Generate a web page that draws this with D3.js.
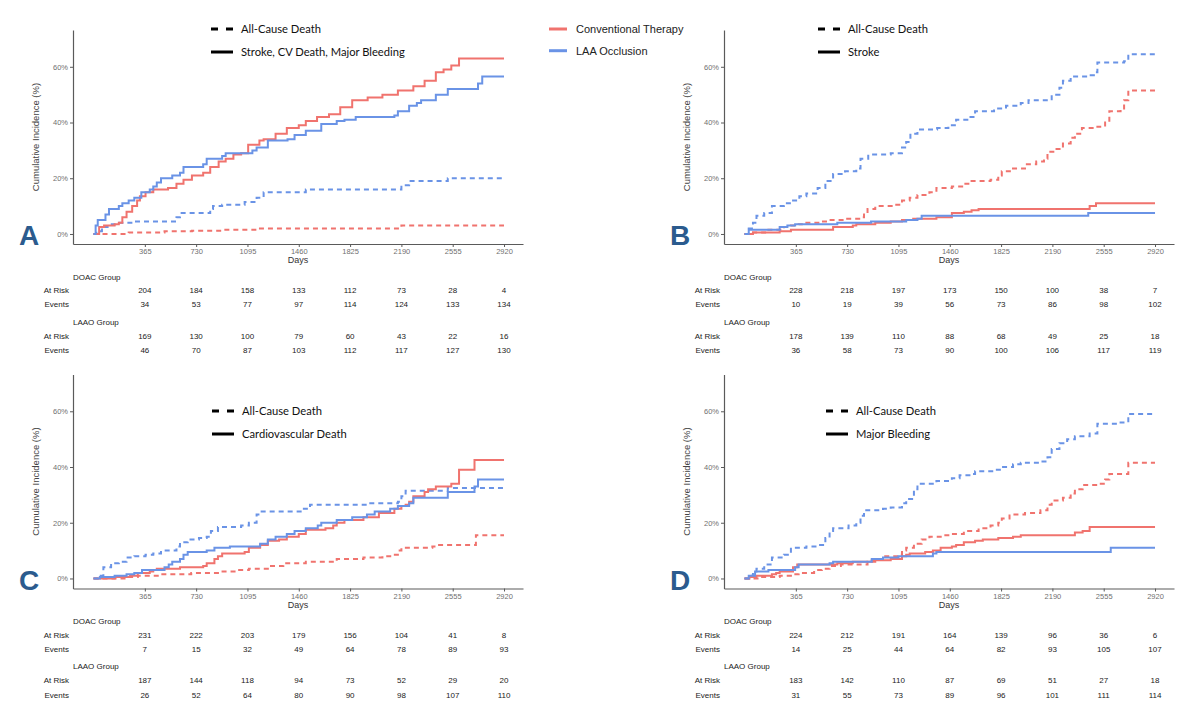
<!DOCTYPE html>
<html lang="en">
  <head>
    <meta charset="UTF-8" />
    <title>Cumulative Incidence</title>
    <style>
      body { margin: 0; background: #fff; }
      svg { display: block; }
    </style>
  </head>
  <body>
    <svg id="svg" width="1200" height="708"></svg>

    <script src="https://cdn.jsdelivr.net/npm/d3@7"></script>
    <script>
      // ---- data ----
      const tickDays = [365, 730, 1095, 1460, 1825, 2190, 2555, 2920];
      const yTicks = [0, 20, 40, 60];
      const panelLetters = ["A", "B", "C", "D"];
      const outcomeNames = ["Stroke, CV Death, Major Bleeding", "Stroke", "Cardiovascular Death", "Major Bleeding"];
      const groupNames = ["Conventional Therapy", "LAA Occlusion"];
      const lineTypes = ["All-Cause Death", "outcome"];

      // [day, cumulative %]
      const aConvOutcome = [[0,0],[40,2.5],[75,3],[150,3.5],[180,4],[205,6],[235,8],[275,10],[310,12],[330,13.5],[370,15],[425,16],[530,16.5],[590,18],[640,19.5],[700,21],[780,22],[830,24],[890,26],[940,27],[995,28.5],[1050,29],[1100,32],[1180,33.5],[1210,34],[1295,36],[1375,38],[1460,39],[1510,40.5],[1590,42],[1675,43],[1755,45.5],[1840,48],[1950,49],[2055,50],[2165,51.5],[2275,53],[2355,55],[2435,58],[2490,59],[2545,60.5],[2600,63],[2920,63]];
      const aLaaoOutcome = [[0,0],[15,3],[30,5],[85,7],[110,9],[180,10],[205,11],[250,12],[290,13],[340,15],[400,16],[425,17],[450,18.5],[480,20],[560,21],[615,22],[640,24],[780,25],[805,27],[915,28],[940,29],[1130,30],[1160,31],[1240,33.5],[1380,34],[1430,35.5],[1510,37],[1620,39.5],[1730,40.5],[1785,41],[1865,42],[2140,42.5],[2165,44],[2245,46],[2300,47],[2330,48],[2435,50],[2520,52],[2735,54],[2765,56.5],[2920,56.5]];
      const aConvDeath = [[0,0],[250,0.5],[505,1],[700,1.2],[915,1.5],[1160,2],[2190,3],[2920,3]];
      const aLaaoDeath = [[0,0],[20,1],[60,2.5],[100,3.5],[155,4],[290,4.5],[590,6],[615,7.5],[830,9],[850,10],[915,10.5],[1075,11.5],[1160,13],[1210,15],[1510,16],[2190,17.5],[2245,19],[2520,20],[2920,20]];

      const bConvOutcome = [[0,0],[60,0.5],[250,1],[330,1.5],[630,2.5],[770,3],[795,3.5],[930,4],[1040,4.5],[1120,5],[1200,5.5],[1365,6],[1475,7.5],[1560,8],[1615,8.5],[1665,9],[2455,10],[2500,11],[2920,11]];
      const bLaaoOutcome = [[0,0],[30,1.5],[250,2.5],[305,3],[360,3.5],[660,4],[900,4.5],[1150,5],[1230,5.5],[1260,6.5],[2445,7.5],[2920,7.5]];
      const bConvDeath = [[0,0],[60,0.5],[170,1.5],[280,2.5],[330,3],[385,3.5],[440,4],[550,4.5],[605,5],[715,5.5],[825,6],[850,7.5],[875,9],[930,10],[1070,10.5],[1120,12],[1175,13],[1230,14],[1315,15],[1365,16.5],[1475,17],[1560,18],[1615,19],[1750,19.5],[1805,21],[1830,22.5],[1910,23.5],[1995,25],[2075,26],[2130,27],[2155,29.5],[2210,30.5],[2265,32.5],[2320,34.5],[2350,36],[2400,38],[2510,38.5],[2565,40],[2595,44],[2675,44.5],[2700,48],[2730,51.5],[2920,51.5]];
      const bLaaoDeath = [[0,0],[30,2],[60,4],[85,6.5],[140,7.5],[195,10],[280,11],[330,12],[390,13.5],[440,14.5],[520,16.5],[575,19],[630,21.5],[715,22.5],[795,23.5],[825,27],[880,28.5],[1040,29],[1120,31],[1150,33],[1180,36],[1230,37.5],[1370,38],[1450,39],[1505,41],[1585,42],[1640,44],[1775,45],[1860,46],[1965,47],[2020,48],[2185,50],[2240,52.5],[2265,55],[2320,56.5],[2430,57],[2485,58],[2510,61.5],[2700,62],[2730,64.5],[2920,64.5]];

      const cConvOutcome = [[0,0],[150,0.5],[260,1],[315,2],[400,2.5],[425,3],[450,3.5],[615,4],[780,4.5],[805,5.5],[860,7],[885,8],[915,9],[1075,9.5],[1105,11],[1185,12],[1240,13.5],[1320,14],[1375,15],[1460,16],[1510,17.5],[1650,18],[1705,19],[1730,20],[1785,21],[1920,22],[2030,23.5],[2140,25],[2190,26],[2220,26.5],[2245,27.5],[2275,29.5],[2355,31],[2380,32],[2435,33],[2545,34],[2600,39],[2710,42.5],[2920,42.5]];
      const cLaaoOutcome = [[0,0],[45,0.5],[150,1],[235,1.5],[290,2],[345,3],[505,4],[535,5],[560,6],[615,7],[640,8.5],[670,9.5],[805,10],[860,11],[970,11.5],[1185,12.5],[1240,14],[1295,15],[1375,16],[1430,17],[1510,18],[1595,19],[1620,20],[1730,21],[1840,22],[1945,23],[2000,24],[2110,25],[2165,26],[2245,27],[2275,29],[2520,31],[2710,33],[2735,35.5],[2920,35.5]];
      const cConvDeath = [[0,0],[235,0.5],[315,1],[480,1.5],[695,2],[885,2.5],[1025,3],[1105,3.5],[1240,4.5],[1350,5.5],[1510,6],[1730,7],[1920,7.5],[2055,8],[2135,8.5],[2165,10],[2190,11],[2410,11.5],[2435,12],[2720,15.5],[2920,15.5]];
      const cLaaoDeath = [[0,0],[30,1],[70,4],[125,5.5],[180,6],[235,7.5],[290,8],[370,8.5],[425,9],[480,10],[590,11.5],[615,13],[670,14],[750,14.5],[805,15],[835,17],[885,18.5],[1050,19],[1105,20],[1160,23],[1185,24],[1485,25],[1540,26.5],[1945,27],[2165,27.5],[2190,29.5],[2220,31.5],[2520,32.5],[2920,32.5]];

      const dConvOutcome = [[0,0],[35,0.5],[85,1],[195,1.5],[225,2],[250,2.5],[345,4],[375,5],[660,5.5],[770,6],[905,6.5],[1040,7],[1120,8],[1150,8.5],[1175,9],[1285,9.5],[1340,10],[1395,11],[1475,11.5],[1505,12],[1560,13],[1640,13.5],[1695,14],[1805,14.5],[1910,15],[1965,15.5],[2350,16.5],[2405,17],[2455,18.5],[2920,18.5]];
      const dLaaoOutcome = [[0,0],[30,1],[75,2.5],[170,3],[360,4],[385,5],[605,5.5],[630,6],[905,7],[985,7.5],[1095,8],[1340,9],[1365,9.5],[2605,11],[2920,11]];
      const dConvDeath = [[0,0],[115,0.5],[250,1],[330,1.5],[385,2],[495,3],[550,3.5],[605,4.5],[685,5],[875,6],[930,7],[985,8],[1095,8.5],[1120,10],[1150,11],[1205,12.5],[1260,14],[1315,15],[1420,15.5],[1475,16],[1560,17],[1665,18],[1750,19],[1805,20],[1830,21.5],[1885,23],[1995,23.5],[2105,24.5],[2155,26.5],[2185,28],[2265,29],[2320,30.5],[2350,32],[2405,33.5],[2510,34],[2565,35.5],[2595,37.5],[2730,41.5],[2920,41.5]];
      const dLaaoDeath = [[0,0],[30,1],[60,2],[85,3.5],[140,5],[195,7.5],[280,8.5],[330,11],[440,11.5],[525,12],[575,14.5],[605,17],[630,18],[740,19],[795,20],[825,22.5],[850,24.5],[985,25],[1040,25.5],[1120,27],[1150,28.5],[1205,32],[1230,34],[1365,35],[1475,36],[1530,37],[1615,37.5],[1640,38.5],[1775,39],[1830,40],[1910,41],[1965,41.5],[2105,42],[2155,43.5],[2185,46.5],[2240,48.5],[2295,50],[2350,51],[2455,52],[2510,55.5],[2675,56],[2730,59],[2920,59]];

      // numbers at risk / events tables
      const aDoacAtRisk = [204, 184, 158, 133, 112, 73, 28, 4];
      const aDoacEvents = [34, 53, 77, 97, 114, 124, 133, 134];
      const aLaaoAtRisk = [169, 130, 100, 79, 60, 43, 22, 16];
      const aLaaoEvents = [46, 70, 87, 103, 112, 117, 127, 130];
      const bDoacAtRisk = [228, 218, 197, 173, 150, 100, 38, 7];
      const bDoacEvents = [10, 19, 39, 56, 73, 86, 98, 102];
      const bLaaoAtRisk = [178, 139, 110, 88, 68, 49, 25, 18];
      const bLaaoEvents = [36, 58, 73, 90, 100, 106, 117, 119];
      const cDoacAtRisk = [231, 222, 203, 179, 156, 104, 41, 8];
      const cDoacEvents = [7, 15, 32, 49, 64, 78, 89, 93];
      const cLaaoAtRisk = [187, 144, 118, 94, 73, 52, 29, 20];
      const cLaaoEvents = [26, 52, 64, 80, 90, 98, 107, 110];
      const dDoacAtRisk = [224, 212, 191, 164, 139, 96, 36, 6];
      const dDoacEvents = [14, 25, 44, 64, 82, 93, 105, 107];
      const dLaaoAtRisk = [183, 142, 110, 87, 69, 51, 27, 18];
      const dLaaoEvents = [31, 55, 73, 89, 96, 101, 111, 114];

      // ---- build panels ----
      const panels = [
        { series: [aConvDeath, aLaaoDeath, aConvOutcome, aLaaoOutcome],
          table: [aDoacAtRisk, aDoacEvents, aLaaoAtRisk, aLaaoEvents] },
        { series: [bConvDeath, bLaaoDeath, bConvOutcome, bLaaoOutcome],
          table: [bDoacAtRisk, bDoacEvents, bLaaoAtRisk, bLaaoEvents] },
        { series: [cConvDeath, cLaaoDeath, cConvOutcome, cLaaoOutcome],
          table: [cDoacAtRisk, cDoacEvents, cLaaoAtRisk, cLaaoEvents] },
        { series: [dConvDeath, dLaaoDeath, dConvOutcome, dLaaoOutcome],
          table: [dDoacAtRisk, dDoacEvents, dLaaoAtRisk, dLaaoEvents] },
      ];
      const offsets = [[0, 0], [651, 0], [0, 344.5], [651, 344.5]];
      const legendX = [211, 167, 212, 175];
      const legendY = [29, 29, 66.5, 66.5];

      const red = "#F0736E";
      const blue = "#6A93E6";
      const color = d3.scaleOrdinal().domain(groupNames).range([red, blue]);

      const x = d3.scaleLinear().domain([-146, 3055]).range([73, 523]);
      const y = d3.scaleLinear().domain([-3.6, 73.2]).range([244, 30]);

      const line = d3.line()
        .x((d) => x(d[0]))
        .y((d) => y(d[1]))
        .curve(d3.curveStepAfter);

      const svg = d3.select("#svg");
      const sans = "'Liberation Sans', Arial, sans-serif";

      panels.forEach((p, i) => {
        const g = svg.append("g")
          .attr("transform", `translate(${offsets[i][0]},${offsets[i][1]})`);

        // axes
        const xAxis = g.append("g")
          .attr("transform", `translate(0,${y.range()[0]})`)
          .call(d3.axisBottom(x).tickValues(tickDays).tickFormat((d) => String(d)).tickSize(3).tickSizeOuter(0).tickPadding(2));
        const yAxis = g.append("g")
          .attr("transform", `translate(${x.range()[0]},0)`)
          .call(d3.axisLeft(y).tickValues(yTicks).tickFormat((d) => d + "%").tickSize(3).tickSizeOuter(0).tickPadding(2));
        [xAxis, yAxis].forEach((ax) => {
          ax.select(".domain").attr("stroke", "#5a5a5a").attr("stroke-width", 1.2);
          ax.selectAll(".tick line").attr("stroke", "#5a5a5a");
          ax.selectAll(".tick text")
            .attr("fill", "#707070")
            .style("font-family", sans)
            .style("font-size", "7.5px");
        });

        g.append("text")
          .attr("x", (x.range()[0] + x.range()[1]) / 2)
          .attr("y", 263)
          .attr("text-anchor", "middle")
          .attr("fill", "#333")
          .style("font-family", sans)
          .style("font-size", "9px")
          .text("Days");

        g.append("text")
          .attr("transform", `translate(39,137) rotate(-90)`)
          .attr("text-anchor", "middle")
          .attr("fill", "#444")
          .style("font-family", sans)
          .style("font-size", "9.5px")
          .text("Cumulative Incidence (%)");

        // curves
        p.series.forEach((s, k) => {
          g.append("path")
            .datum(s)
            .attr("fill", "none")
            .attr("stroke", color(groupNames[k % 2]))
            .attr("stroke-width", 2)
            .attr("stroke-dasharray", k < 2 ? "5,4" : null)
            .attr("d", line);
        });

        // panel letter
        g.append("text")
          .attr("x", 19)
          .attr("y", 245)
          .attr("fill", "#2B5B8E")
          .style("font-family", sans)
          .style("font-weight", "bold")
          .style("font-size", "28px")
          .text(panelLetters[i]);

        // line type legend
        const lg = g.append("g").attr("transform", `translate(${legendX[i]},${legendY[i]})`);
        [lineTypes[0], outcomeNames[i]].forEach((label, k) => {
          const ly = k === 0 ? 0 : 23;
          lg.append("line")
            .attr("x1", 0).attr("x2", 22)
            .attr("y1", ly).attr("y2", ly)
            .attr("stroke", "#000")
            .attr("stroke-width", 3)
            .attr("stroke-dasharray", k === 0 ? "7,8" : null);
          lg.append("text")
            .attr("x", 30)
            .attr("y", ly)
            .attr("dy", "0.35em")
            .attr("fill", "#111")
            .style("font-family", "Lato, sans-serif")
            .style("font-size", "11.2px")
            .text(label);
        });

        // risk table
        const rows = [
          { label: "At Risk", y: 290.3, vals: p.table[0] },
          { label: "Events", y: 304.3, vals: p.table[1] },
          { label: "At Risk", y: 336, vals: p.table[2] },
          { label: "Events", y: 350.3, vals: p.table[3] },
        ];
        [["DOAC Group", 276.7], ["LAAO Group", 321.7]].forEach(([t, ty]) => {
          g.append("text")
            .attr("x", x.range()[0])
            .attr("y", ty)
            .attr("dy", "0.35em")
            .attr("fill", "#222")
            .style("font-family", sans)
            .style("font-size", "8px")
            .text(t);
        });
        rows.forEach((r) => {
          g.append("text")
            .attr("x", 69)
            .attr("y", r.y)
            .attr("dy", "0.35em")
            .attr("text-anchor", "end")
            .attr("fill", "#222")
            .style("font-family", sans)
            .style("font-size", "8px")
            .text(r.label);
          g.selectAll(null)
            .data(r.vals)
            .enter()
            .append("text")
            .attr("x", (d, j) => x(tickDays[j]))
            .attr("y", r.y)
            .attr("dy", "0.35em")
            .attr("text-anchor", "middle")
            .attr("fill", "#222")
            .style("font-family", sans)
            .style("font-size", "8px")
            .text((d) => d);
        });
      });

      // group colour legend
      const cl = svg.append("g").attr("transform", "translate(549,0)");
      groupNames.forEach((name, k) => {
        const ly = k === 0 ? 29 : 50.7;
        cl.append("line")
          .attr("x1", 0).attr("x2", 18)
          .attr("y1", ly).attr("y2", ly)
          .attr("stroke", color(name))
          .attr("stroke-width", 3);
        cl.append("text")
          .attr("x", 27)
          .attr("y", ly)
          .attr("dy", "0.35em")
          .attr("fill", "#222")
          .style("font-family", sans)
          .style("font-size", "11px")
          .text(name);
      });
    </script>
  </body>
</html>
